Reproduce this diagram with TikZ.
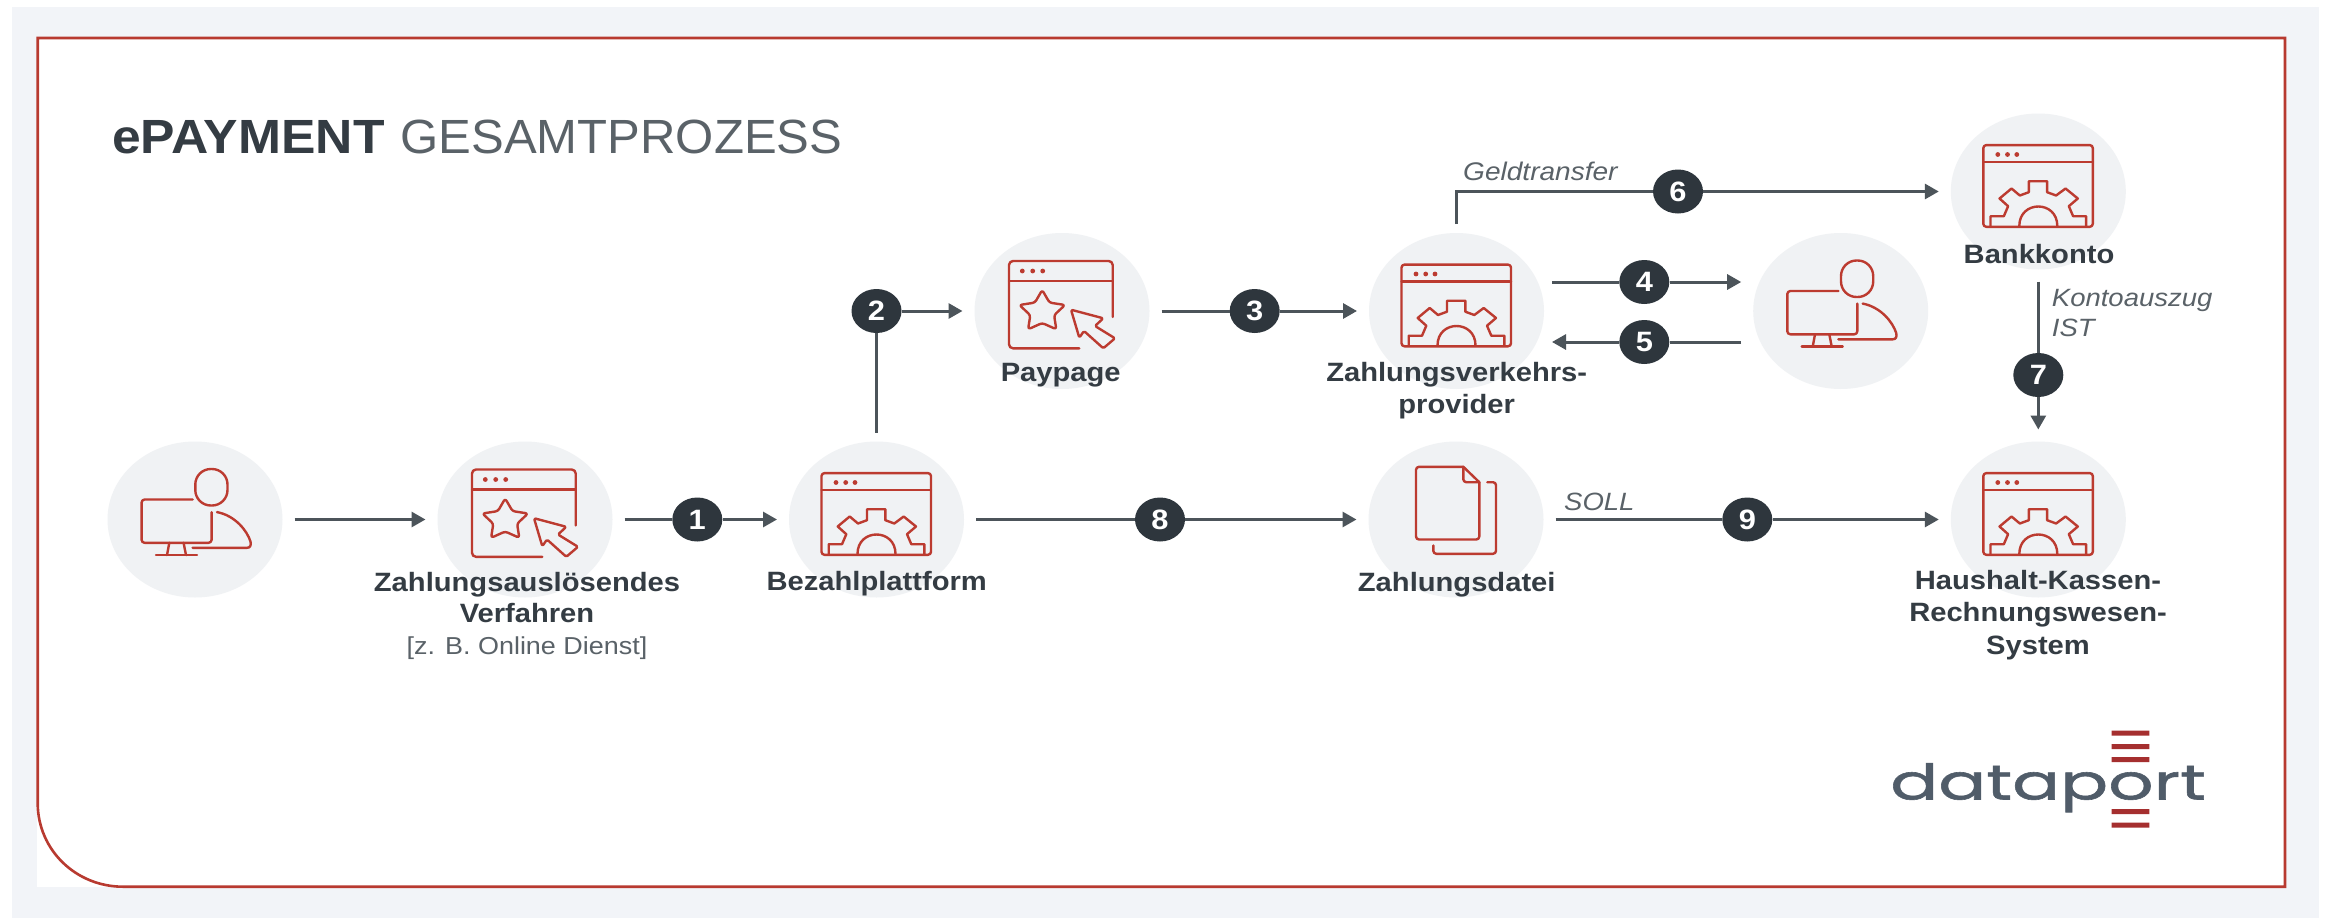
\documentclass[tikz,border=0pt]{standalone}
\usepackage{fontspec}
\usetikzlibrary{shapes.geometric,arrows.meta,calc}
\setmainfont{Liberation Sans}
\newfontfamily\lblfont[FakeStretch=1.1]{Liberation Sans}
\newfontfamily\ttlbold[FakeStretch=1.075]{Liberation Sans}
\newfontfamily\ttlreg[FakeStretch=1.022]{Liberation Sans}
\newfontfamily\logofont[FakeStretch=1.45,FakeBold=1.2]{Poppins}
\definecolor{pagebg}{HTML}{F2F4F8}
\definecolor{framered}{HTML}{B83A30}
\definecolor{iconred}{HTML}{BC3B30}
\definecolor{disc}{HTML}{F0F2F4}
\definecolor{ink}{HTML}{343C43}
\definecolor{inkl}{HTML}{5A6268}
\definecolor{wire}{HTML}{4C545A}
\definecolor{badge}{HTML}{2E363D}
\definecolor{logogrey}{HTML}{505C69}
\definecolor{logored}{HTML}{A52F2F}
\tikzset{
  disc/.style={ellipse,fill=disc,minimum width=175pt,minimum height=156pt,inner sep=0pt,outer sep=12pt},
  badge/.style={ellipse,fill=badge,text=white,minimum width=50pt,minimum height=44pt,inner sep=0pt,font=\lblfont\bfseries\fontsize{28}{28}\selectfont},
  lab/.style={anchor=north,inner sep=0pt,align=center,text=ink,font=\lblfont\bfseries\fontsize{26.5}{32.5}\selectfont},
  note/.style={anchor=base west,inner sep=0pt,align=left,text=inkl,font=\lblfont\itshape\fontsize{25}{30.7}\selectfont},
  wire/.style={draw=wire,line width=3pt},
  flow/.style={wire,-{Triangle[length=14pt,width=15pt]}},
  icon/.style={draw=iconred,line width=2.4pt,line join=round,line cap=round},
  person/.pic={
    \draw[icon,rounded corners=15.5pt] (0.3,-50.5) rectangle (32.5,-14);
    \draw[icon,rounded corners=3pt] (-2.4,-20) -- (-53.4,-20) -- (-53.4,23.3) -- (16.6,23.3) -- (16.6,-7.4);
    \draw[icon] (-39,35.6) -- (2,35.6);
    \draw[icon] (-25.7,23.3) -- (-28,35.6);
    \draw[icon] (-11.4,23.3) -- (-9,35.6);
    \draw[icon] (22,-7.4) .. controls (40,-4) and (52,11) .. (55.5,22) .. controls (56.5,26) and (55,28.3) .. (52,28.3) -- (-2.4,28.3);
  },
  webgear/.pic={
    \draw[icon,rounded corners=3pt] (-55,-46.4) rectangle (54.5,35.3);
    \draw[icon] (-55,-29.4) -- (54.5,-29.4);
    \fill[iconred] (-40.5,-37) circle (2.4pt) (-30.8,-37) circle (2.4pt) (-21.5,-37) circle (2.4pt);
    \draw[icon] (-47.8,34.5) -- (-47.8,24.7) -- (-34.5,24.7) -- (-30.2,14.7) -- (-38.8,7) -- (-26.8,-3) -- (-18.5,4) -- (-9.5,.7) -- (-9.5,-10.3) -- (8.8,-10.3) -- (8.8,.7) -- (17.8,4) -- (27.2,-3) -- (39.5,7) -- (30.5,14.7) -- (34.8,24.7) -- (47.8,24.7) -- (47.8,34.5);
    \draw[icon] (-19,34.5) .. controls (-19,8.5) and (19,8.5) .. (19,34.5);
  },
  webstar/.pic={
    \draw[icon,rounded corners=4pt] (50.7,6) -- (50.7,-50) -- (-53,-50) -- (-53,37.3) -- (17.3,37.3);
    \draw[icon] (-53,-30) -- (50.7,-30);
    \fill[iconred] (-39.7,-40) circle (2.4pt) (-29.3,-40) circle (2.4pt) (-19.3,-40) circle (2.4pt);
    \begin{scope}[shift={(-19.8,0.7)}]
      \draw[icon,rounded corners=2.5pt] (0,-21.7) -- (7.3,-9.1) -- (22.8,-6.7) -- (11.9,3.5) -- (14.1,17.6) -- (0,11.3) -- (-14.1,17.6) -- (-11.9,3.5) -- (-22.8,-6.7) -- (-7.3,-9.1) -- cycle;
    \end{scope}
    \draw[icon,rounded corners=1.5pt] (9,-1.3) -- (41.3,7.3) -- (33,15) -- (53,27.3) -- (41.3,37.3) -- (22,20) -- (17.3,26.7) -- cycle;
  },
  docs/.pic={
    \draw[icon,rounded corners=3pt] (7.3,-52.7) -- (-40,-52.7) -- (-40,20) -- (23.3,20) -- (23.3,-37.3);
    \draw[icon] (7.3,-52.7) -- (23.3,-37.3);
    \draw[icon,rounded corners=3pt] (7.3,-52.7) -- (7.3,-37.3) -- (23.3,-37.3);
    \draw[icon,rounded corners=3pt] (31.3,-37.3) -- (40,-37.3) -- (40,34.3) -- (-22.7,34.3) -- (-22.7,26);
  },
}
\begin{document}
\begin{tikzpicture}[x=1pt,y=-1pt]
\useasboundingbox (0,0) rectangle (2326,918);
\fill[white] (0,0) rectangle (2326,918);
\fill[pagebg] (12,7) rectangle (2319,918);
\fill[white] (37,38) rectangle (2285,887);
\draw[framered,line width=2.6pt] (123,886.7) -- (2285,886.7) -- (2285,38) -- (37.7,38) -- (37.7,803) .. controls (37.7,850) and (76,886.7) .. (123,886.7);

\node[anchor=base west,inner sep=0pt,text=inkl,font=\fontsize{48}{48}\selectfont] (title) at (112,153)
  {{\ttlbold\bfseries\color{ink}ePAYMENT}\hspace{16pt}{\ttlreg GESAMTPROZESS}};

% discs
\node[disc] (p1) at (195,519.5) {};
\node[disc] (z) at (525,519.5) {};
\node[disc] (bez) at (876.5,519.5) {};
\node[disc] (pay) at (1062,311) {};
\node[disc] (zvp) at (1456.5,311) {};
\node[disc] (p2) at (1840.7,311) {};
\node[disc] (bank) at (2038.3,191.5) {};
\node[disc] (dat) at (1456,519.5) {};
\node[disc] (hkr) at (2038.3,519.5) {};

% icons
\pic at (p1) {person};
\pic at (z) {webstar};
\pic at (bez) {webgear};
\pic at (pay) {webstar};
\pic at (zvp) {webgear};
\pic at (p2) {person};
\pic at (bank) {webgear};
\pic at (dat) {docs};
\pic at (hkr) {webgear};

% badges
\node[badge] (b1) at (697.3,519.5) {1};
\node[badge] (b2) at (876.5,311) {2};
\node[badge] (b3) at (1254.7,311) {3};
\node[badge] (b4) at (1644.3,282) {4};
\node[badge] (b5) at (1644.3,342) {5};
\node[badge] (b6) at (1678,191.5) {6};
\node[badge] (b7) at (2038.3,375) {7};
\node[badge] (b8) at (1160,519.5) {8};
\node[badge] (b9) at (1747.3,519.5) {9};

% connectors
\draw[flow] (p1) -- (z);
\draw[wire] (z) -- (b1);
\draw[flow] (b1) -- (bez);
\draw[wire,shorten <=-3pt] (bez) -- (b2);
\draw[flow] (b2) -- (pay);
\draw[wire] (pay) -- (b3);
\draw[flow] (b3) -- (zvp);
\draw[wire,shorten <=-4pt] (zvp.east |- b4) -- (b4);
\draw[flow] (b4) -- (p2.west |- b4);
\draw[wire] (p2.west |- b5) -- (b5);
\draw[flow,shorten >=-4pt] (b5) -- (zvp.east |- b5);
\draw[wire,shorten <=-3pt] (zvp.north) |- (b6);
\draw[flow] (b6) -- (bank);
\draw[wire] (bank) -- (b7);
\draw[flow] (b7) -- (hkr);
\draw[wire] (bez) -- (b8);
\draw[flow] (b8) -- (dat);
\draw[wire] (dat) -- (b9);
\draw[flow] (b9) -- (hkr);

% labels
\node[lab,font=\lblfont\bfseries\fontsize{26.5}{31.5}\selectfont] (lz) at (527,572) {Zahlungsauslösendes\\Verfahren\\{\mdseries\color{inkl}\fontsize{24.5}{31.5}\selectfont [z. B. Online Dienst]}};
\node[lab] (lbez) at (876.7,571) {Bezahlplattform};
\node[lab] (lpay) at (1060.7,363) {Paypage};
\node[lab] (lzvp) at (1456.7,362) {Zahlungsverkehrs-\\provider};
\node[lab] (lbank) at (2039,244.5) {Bankkonto};
\node[lab] (ldat) at (1456.7,572.5) {Zahlungsdatei};
\node[lab] (lhkr) at (2038,570) {Haushalt-Kassen-\\Rechnungswesen-\\System};

\node[note,font=\lblfont\itshape\fontsize{25.5}{30.7}\selectfont] (ngeld) at (1463,180.7) {Geldtransfer};
\node[note] (nkonto) at (2051.7,336.7) {Kontoauszug\\IST};
\node[note] (nsoll) at (1564,510) {SOLL};

% logo
\node[anchor=base west,inner sep=0pt,text=logogrey,font=\logofont\fontsize{49}{49}\selectfont] (logo) at (1890,799.5) {dataport};
\fill[logored] (2111.7,730.5) rectangle (2149.3,735.5)
               (2111.7,744.2) rectangle (2149.3,749.2)
               (2111.7,757.2) rectangle (2149.3,762.2)
               (2111.7,809.2) rectangle (2149.3,814.2)
               (2111.7,822.5) rectangle (2149.3,827.5);
\end{tikzpicture}
\end{document}
